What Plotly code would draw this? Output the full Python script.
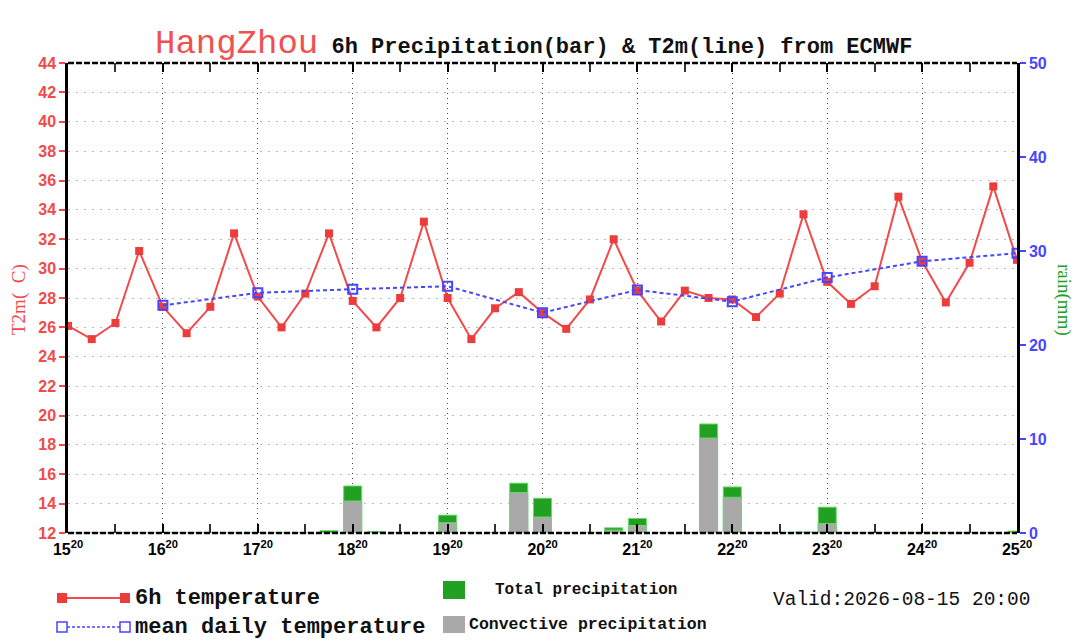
import plotly.graph_objects as go

# ---------------- data ----------------
days = [15, 16, 17, 18, 19, 20, 21, 22, 23, 24, 25]
tick_labels = [f"{d}<sup>20</sup>" for d in days]
steps = list(range(41))  # 6-hourly steps from 15th 20:00 to 25th 20:00

temp_6h = [26.1, 25.2, 26.3, 31.2, 27.4, 25.6, 27.4, 32.4, 28.1, 26.0,
           28.3, 32.4, 27.8, 26.0, 28.0, 33.2, 28.0, 25.2, 27.3, 28.4,
           27.0, 25.9, 27.9, 32.0, 28.5, 26.4, 28.5, 28.0, 27.9, 26.7,
           28.3, 33.7, 29.1, 27.6, 28.8, 34.9, 30.5, 27.7, 30.4, 35.6,
           30.6]

mean_steps = [4, 8, 12, 16, 20, 24, 28, 32, 36, 40]
temp_mean = [27.5, 28.35, 28.6, 28.8, 27.0, 28.55, 27.75, 29.4, 30.5, 31.05]

precip_total = [0, 0, 0, 0, 0, 0, 0, 0, 0, 0,
                0, 0.25, 5.0, 0.15, 0, 0, 1.9, 0, 0, 5.3,
                3.7, 0, 0, 0.55, 1.55, 0, 0, 11.6, 4.9, 0,
                0, 0.1, 2.75, 0, 0, 0, 0, 0, 0, 0,
                0.2]
precip_conv = [0, 0, 0, 0, 0, 0, 0, 0, 0, 0,
               0, 0, 3.4, 0, 0, 0, 1.1, 0, 0, 4.3,
               1.7, 0, 0, 0.3, 0.8, 0, 0, 10.1, 3.8, 0,
               0, 0, 1.0, 0, 0, 0, 0, 0, 0, 0,
               0]

# ---------------- style ----------------
RED = "#f24a4a"
BLUE = "#4646ff"
GREEN = "#22a022"
GRAY = "#a9a9a9"
MONO = "Liberation Mono"
SANS = "Liberation Sans"
SERIF = "Liberation Serif"

# page body has an 8px margin; compensate so the figure lands where the reference is
OFF = 8
W, H = 1080 - OFF, 642 - OFF
# plot-area edges in reference (page) pixels
L, R, T, B = 68, 1017, 63, 533


def px(x):
    return (x - L) / (R - L)


def py(y):
    return (B - y) / (B - T)


fig = go.Figure()

fig.add_trace(go.Bar(x=steps, y=precip_total, yaxis="y2", width=0.76,
                     marker=dict(color=GREEN, line=dict(color="#6fd86f", width=1)),
                     showlegend=False, hoverinfo="skip"))
fig.add_trace(go.Bar(x=steps, y=precip_conv, yaxis="y2", width=0.76,
                     marker=dict(color=GRAY, line=dict(color="#6fd86f", width=1)),
                     showlegend=False, hoverinfo="skip"))

fig.add_trace(go.Scatter(x=steps, y=temp_6h, mode="lines+markers",
                         line=dict(color=RED, width=2),
                         marker=dict(symbol="square", size=8, color="#ec3c3c"),
                         showlegend=False))
fig.add_trace(go.Scatter(x=mean_steps, y=temp_mean, mode="lines+markers",
                         line=dict(color=BLUE, width=2, dash="4px,3px"),
                         marker=dict(symbol="square-open", size=9, color=BLUE,
                                     line=dict(width=2, color=BLUE)),
                         showlegend=False))

fig.update_layout(
    width=W, height=H,
    margin=dict(l=L - OFF, r=W - (R - OFF), t=T - OFF, b=H - (B - OFF)),
    paper_bgcolor="white", plot_bgcolor="white",
    barmode="overlay",
    xaxis=dict(range=[0, 40], tickvals=[i * 4 for i in range(11)], ticktext=tick_labels,
               showline=False, zeroline=False, mirror="allticks",
               ticks="inside", ticklen=9, tickwidth=2, tickcolor="black",
               minor=dict(tickvals=[i * 4 + 2 for i in range(10)], ticks="inside",
                          ticklen=6, tickwidth=1.5, tickcolor="#333", showgrid=False),
               showgrid=True, gridcolor="#444", griddash="1px,4px", gridwidth=1,
               tickfont=dict(family=SANS, size=16, color="black", weight="bold"),
               ticklabelstandoff=5),
    yaxis=dict(range=[12, 44], dtick=2, tick0=12,
               showline=True, linecolor="black", linewidth=2.5,
               ticks="outside", ticklen=6, tickwidth=2, tickcolor=RED,
               tickfont=dict(family=SANS, size=16, color=RED, weight="bold"),
               showgrid=True, gridcolor="#b8b8b8", griddash="2px,6px", gridwidth=1,
               zeroline=False),
    yaxis2=dict(range=[0, 50], dtick=10, overlaying="y", side="right",
                showline=True, linecolor="black", linewidth=2.5,
                ticks="outside", ticklen=6, tickwidth=2, tickcolor=BLUE,
                tickfont=dict(family=SANS, size=16, color=BLUE, weight="bold"),
                showgrid=False, zeroline=False),
)

shapes = []
# dashed top and bottom frame lines
for yy in (0, 1):
    shapes.append(dict(type="line", xref="paper", yref="paper", x0=0, x1=1, y0=yy, y1=yy,
                       line=dict(color="black", width=2.5, dash="6px,2px")))

# legend samples
ly1, ly2 = 598, 627
shapes.append(dict(type="line", xref="paper", yref="paper", x0=px(62), x1=px(125),
                   y0=py(ly1), y1=py(ly1), line=dict(color=RED, width=2)))
for xx in (62, 125):
    shapes.append(dict(type="rect", xref="paper", yref="paper", x0=px(xx - 5), x1=px(xx + 5),
                       y0=py(ly1 + 5), y1=py(ly1 - 5), fillcolor="#ec3c3c", line=dict(width=0)))
shapes.append(dict(type="line", xref="paper", yref="paper", x0=px(62), x1=px(125),
                   y0=py(ly2), y1=py(ly2), line=dict(color=BLUE, width=1.5, dash="3px,2px")))
for xx in (62, 125):
    shapes.append(dict(type="rect", xref="paper", yref="paper", x0=px(xx - 5), x1=px(xx + 5),
                       y0=py(ly2 + 5), y1=py(ly2 - 5), fillcolor="white",
                       line=dict(color=BLUE, width=1.5)))
shapes.append(dict(type="rect", xref="paper", yref="paper", x0=px(443), x1=px(465),
                   y0=py(599), y1=py(581), fillcolor=GREEN, line=dict(width=0)))
shapes.append(dict(type="rect", xref="paper", yref="paper", x0=px(443), x1=px(465),
                   y0=py(633), y1=py(616), fillcolor=GRAY, line=dict(width=0)))
fig.update_layout(shapes=shapes)

ann = []
ann.append(dict(xref="paper", yref="paper", x=px(533), y=py(44), xanchor="center", yanchor="middle",
                showarrow=False,
                text="<span style='font-family:Liberation Mono;font-size:34px;color:#f05050'>HangZhou</span>"
                     "<span style='font-family:Liberation Mono;font-size:22px;color:#111'><b> 6h Precipitation(bar) &amp; T2m(line) from ECMWF</b></span>"))
ann.append(dict(xref="paper", yref="paper", x=px(19), y=py(300), textangle=-90,
                xanchor="center", yanchor="middle", showarrow=False,
                text="T2m(  C)", font=dict(family=SERIF, size=19, color=RED)))
ann.append(dict(xref="paper", yref="paper", x=px(1064), y=py(300), textangle=90,
                xanchor="center", yanchor="middle", showarrow=False,
                text="rain(mm)", font=dict(family=SERIF, size=19, color=GREEN)))
ann.append(dict(xref="paper", yref="paper", x=px(133), y=py(ly1), xanchor="left", yanchor="middle",
                showarrow=False, text="<b>6h temperature</b>",
                font=dict(family=MONO, size=22, color="#111")))
ann.append(dict(xref="paper", yref="paper", x=px(133), y=py(ly2), xanchor="left", yanchor="middle",
                showarrow=False, text="<b>mean daily temperature</b>",
                font=dict(family=MONO, size=22, color="#111")))
ann.append(dict(xref="paper", yref="paper", x=px(493), y=py(590), xanchor="left", yanchor="middle",
                showarrow=False, text="<b>Total precipitation</b>",
                font=dict(family=MONO, size=16, color="#111")))
ann.append(dict(xref="paper", yref="paper", x=px(467), y=py(624), xanchor="left", yanchor="middle",
                showarrow=False, text="<b>Convective precipitation</b>",
                font=dict(family=MONO, size=16.5, color="#111")))
ann.append(dict(xref="paper", yref="paper", x=px(771), y=py(600), xanchor="left", yanchor="middle",
                showarrow=False, text="Valid:2026-08-15 20:00",
                font=dict(family=MONO, size=19.5, color="#111")))
fig.update_layout(annotations=ann)

fig.write_html("out.html")
